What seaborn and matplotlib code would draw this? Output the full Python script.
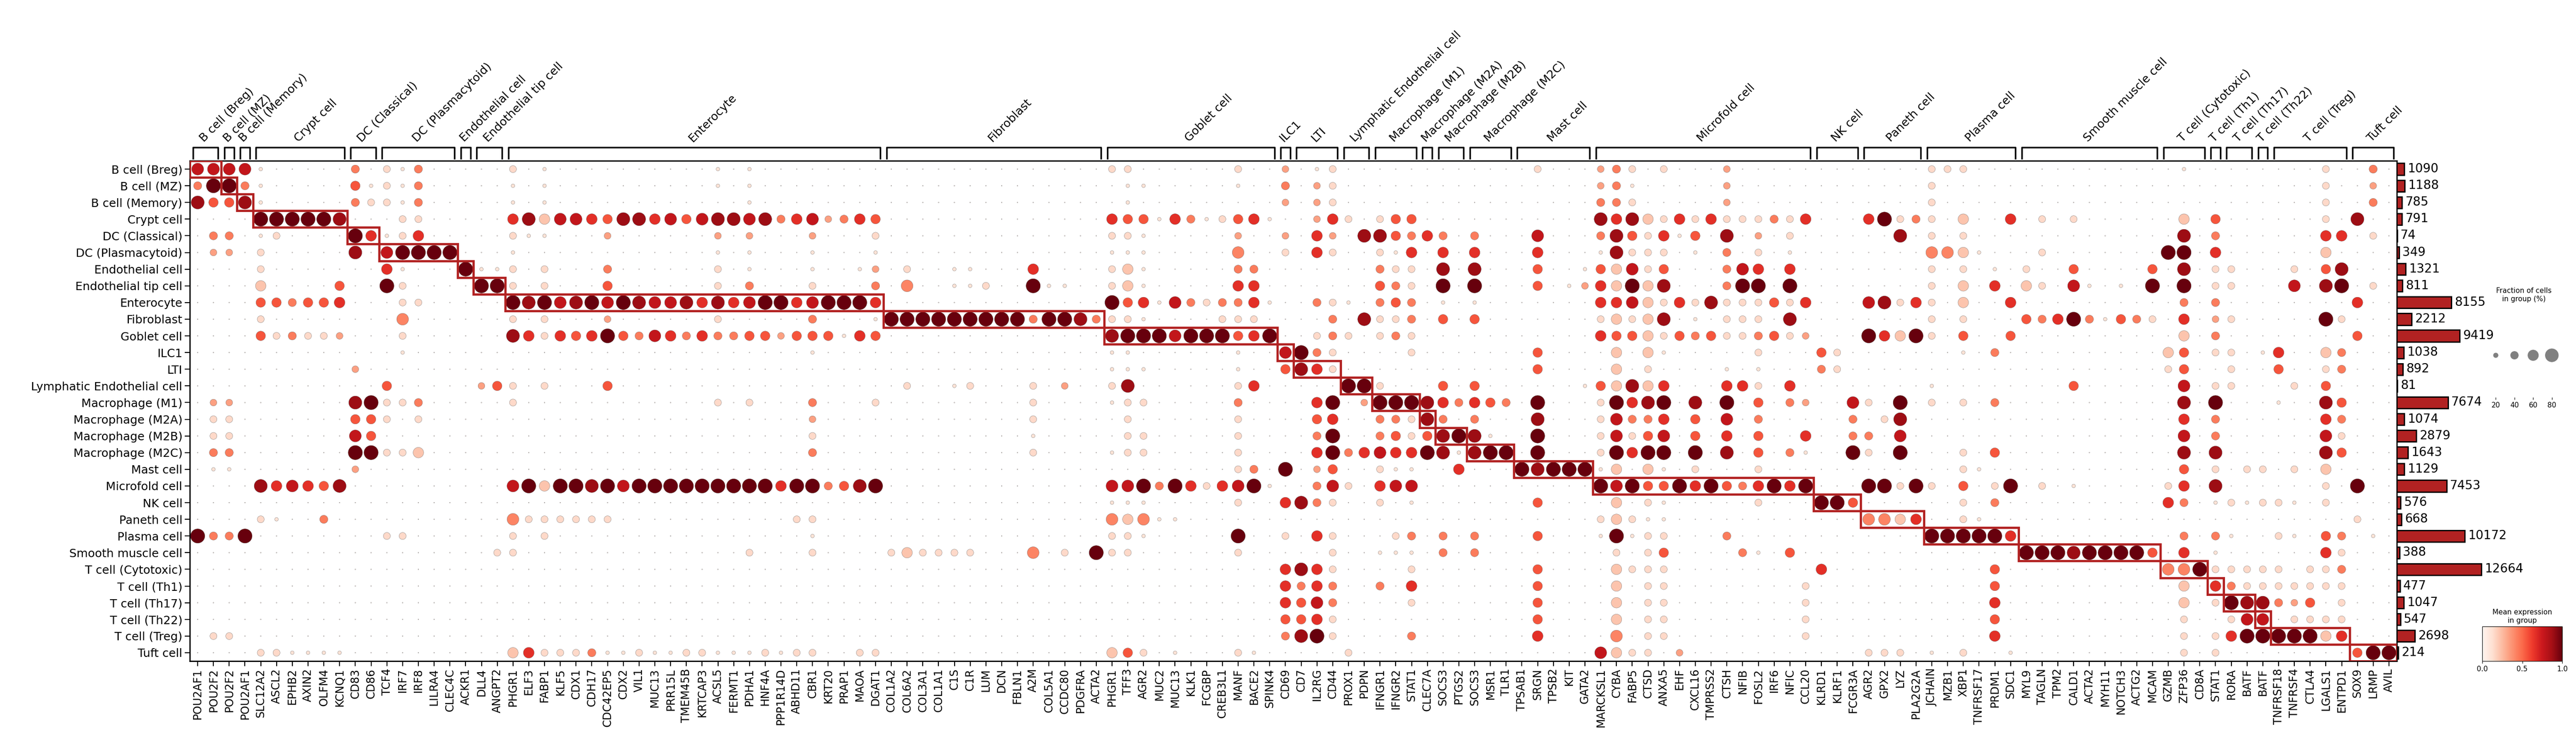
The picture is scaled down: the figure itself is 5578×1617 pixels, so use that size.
import numpy as np
import pandas as pd
import matplotlib
matplotlib.use("Agg")
import matplotlib.pyplot as plt
from matplotlib.patches import Rectangle
import seaborn as sns

# ---- данные ----
cell_types = ['B cell (Breg)', 'B cell (MZ)', 'B cell (Memory)', 'Crypt cell', 'DC (Classical)',
              'DC (Plasmacytoid)', 'Endothelial cell', 'Endothelial tip cell', 'Enterocyte', 'Fibroblast',
              'Goblet cell', 'ILC1', 'LTI', 'Lymphatic Endothelial cell', 'Macrophage (M1)',
              'Macrophage (M2A)', 'Macrophage (M2B)', 'Macrophage (M2C)', 'Mast cell', 'Microfold cell',
              'NK cell', 'Paneth cell', 'Plasma cell', 'Smooth muscle cell', 'T cell (Cytotoxic)',
              'T cell (Th1)', 'T cell (Th17)', 'T cell (Th22)', 'T cell (Treg)', 'Tuft cell']
cell_counts = [1090, 1188, 785, 791, 74, 349, 1321, 811, 8155, 2212, 9419, 1038, 892, 81, 7674,
               1074, 2879, 1643, 1129, 7453, 576, 668, 10172, 388, 12664, 477, 1047, 547, 2698, 214]

marker_genes = {
    'B cell (Breg)': ['POU2AF1', 'POU2F2'],
    'B cell (MZ)': ['POU2F2'],
    'B cell (Memory)': ['POU2AF1'],
    'Crypt cell': ['SLC12A2', 'ASCL2', 'EPHB2', 'AXIN2', 'OLFM4', 'KCNQ1'],
    'DC (Classical)': ['CD83', 'CD86'],
    'DC (Plasmacytoid)': ['TCF4', 'IRF7', 'IRF8', 'LILRA4', 'CLEC4C'],
    'Endothelial cell': ['ACKR1'],
    'Endothelial tip cell': ['DLL4', 'ANGPT2'],
    'Enterocyte': ['PHGR1', 'ELF3', 'FABP1', 'KLF5', 'CDX1', 'CDH17', 'CDC42EP5', 'CDX2', 'VIL1',
                   'MUC13', 'PRR15L', 'TMEM45B', 'KRTCAP3', 'ACSL5', 'FERMT1', 'PDHA1', 'HNF4A',
                   'PPP1R14D', 'ABHD11', 'CBR1', 'KRT20', 'PRAP1', 'MAOA', 'DGAT1'],
    'Fibroblast': ['COL1A2', 'COL6A2', 'COL3A1', 'COL1A1', 'C1S', 'C1R', 'LUM', 'DCN', 'FBLN1',
                   'A2M', 'COL5A1', 'CCDC80', 'PDGFRA', 'ACTA2'],
    'Goblet cell': ['PHGR1', 'TFF3', 'AGR2', 'MUC2', 'MUC13', 'KLK1', 'FCGBP', 'CREB3L1', 'MANF',
                    'BACE2', 'SPINK4'],
    'ILC1': ['CD69'],
    'LTI': ['CD7', 'IL2RG', 'CD44'],
    'Lymphatic Endothelial cell': ['PROX1', 'PDPN'],
    'Macrophage (M1)': ['IFNGR1', 'IFNGR2', 'STAT1'],
    'Macrophage (M2A)': ['CLEC7A'],
    'Macrophage (M2B)': ['SOCS3', 'PTGS2'],
    'Macrophage (M2C)': ['SOCS3', 'MSR1', 'TLR1'],
    'Mast cell': ['TPSAB1', 'SRGN', 'TPSB2', 'KIT', 'GATA2'],
    'Microfold cell': ['MARCKSL1', 'CYBA', 'FABP5', 'CTSD', 'ANXA5', 'EHF', 'CXCL16', 'TMPRSS2',
                       'CTSH', 'NFIB', 'FOSL2', 'IRF6', 'NFIC', 'CCL20'],
    'NK cell': ['KLRD1', 'KLRF1', 'FCGR3A'],
    'Paneth cell': ['AGR2', 'GPX2', 'LYZ', 'PLA2G2A'],
    'Plasma cell': ['JCHAIN', 'MZB1', 'XBP1', 'TNFRSF17', 'PRDM1', 'SDC1'],
    'Smooth muscle cell': ['MYL9', 'TAGLN', 'TPM2', 'CALD1', 'ACTA2', 'MYH11', 'NOTCH3', 'ACTG2', 'MCAM'],
    'T cell (Cytotoxic)': ['GZMB', 'ZFP36', 'CD8A'],
    'T cell (Th1)': ['STAT1'],
    'T cell (Th17)': ['RORA', 'BATF'],
    'T cell (Th22)': ['BATF'],
    'T cell (Treg)': ['TNFRSF18', 'TNFRSF4', 'CTLA4', 'LGALS1', 'ENTPD1'],
    'Tuft cell': ['SOX9', 'LRMP', 'AVIL'],
}

# Уровни точек (столбец:код), прочие ячейки - крошечные точки.
# 1-9: размер и цвет растут вместе; a/b/c: бледные крупные точки
dot_codes = [
    "0:7 1:7 2:7 3:7 4:1 10:4 12:a 13:1 14:4 20:a 22:1 33:1 35:1 58:a 59:a 66:a 69:3 71:1 72:a 85:a 89:3 90:4 91:a 93:a 97:3 110:a 111:a 112:a 126:1 135:a 138:4",
    "0:4 1:9 2:9 3:4 4:1 10:5 11:1 12:a 13:1 14:4 20:1 22:1 33:1 35:1 59:1 60:1 66:1 69:4 71:3 72:a 89:3 90:4 91:1 97:3 110:a 135:a 138:3",
    "0:8 1:5 2:5 3:8 4:1 10:4 11:a 12:a 13:1 14:4 20:1 22:1 35:1 59:1 69:3 71:3 72:a 89:4 90:4 91:a 97:3 110:a 135:a 138:4",
    "4:9 5:9 6:9 7:9 8:9 9:8 13:a 14:a 20:6 21:8 22:b 23:7 24:7 25:6 26:5 27:8 28:8 29:6 30:7 31:5 32:7 33:8 34:8 35:7 36:8 37:4 38:6 39:7 40:3 41:4 42:6 43:5 58:6 59:5 60:5 61:1 62:6 63:4 64:1 65:a 66:5 67:6 68:1 71:3 72:6 73:a 75:a 76:5 77:5 89:8 90:6 91:8 92:b 93:a 94:6 95:a 96:6 97:a 98:a 99:a 100:4 101:a 102:6 106:6 107:9 108:a 109:4 110:a 112:b 115:6 117:a 119:a 126:b 128:5 135:a 137:8",
    "1:4 2:4 4:1 5:a 10:9 11:6 12:1 13:a 14:6 20:a 21:1 22:1 26:3 33:3 35:3 39:3 43:a 58:a 59:a 60:1 66:3 69:3 71:6 72:3 74:8 75:8 76:5 77:4 78:6 79:4 81:4 85:7 89:4 90:8 91:5 92:a 93:6 94:1 95:5 97:8 99:3 101:a 108:8 110:a 112:a 126:8 128:4 135:6 136:6 138:a",
    "1:3 2:3 4:a 10:8 12:7 13:9 14:9 15:9 16:9 20:1 33:1 35:1 39:1 43:1 58:1 59:1 60:1 66:c 69:a 71:6 72:a 75:a 76:1 77:6 79:6 81:6 85:6 89:1 90:8 91:a 92:a 93:a 95:1 97:4 99:a 101:1 110:c 111:c 112:b 113:1 117:a 125:9 126:9 128:6 135:b",
    "4:a 12:6 13:1 17:9 18:1 19:1 20:a 22:a 26:4 33:a 35:1 39:1 42:1 43:3 45:a 48:1 49:1 53:6 58:a 59:b 60:1 66:4 67:4 75:4 76:a 77:a 79:8 81:8 85:5 88:1 89:5 90:b 91:7 92:a 93:5 97:4 98:7 99:6 101:6 110:a 112:a 114:1 116:a 119:5 124:5 126:8 128:a 129:a 133:a 135:5 136:8",
    "4:b 9:5 12:9 13:a 18:9 19:9 20:a 22:a 26:5 33:a 35:4 39:a 43:4 45:c 48:1 49:1 50:a 53:9 54:1 55:1 58:a 59:b 60:1 66:6 67:6 75:5 76:4 77:a 79:9 81:9 85:5 87:1 88:3 89:6 90:b 91:9 92:b 93:8 97:4 98:9 99:9 101:9 110:a 112:b 114:6 116:b 117:a 119:7 120:1 122:1 124:9 126:9 128:a 129:a 133:7 135:8 136:9 138:a",
    "4:5 5:5 6:4 7:5 8:5 9:6 13:a 14:a 20:9 21:8 22:9 23:7 24:8 25:9 26:7 27:9 28:8 29:7 30:7 31:8 32:6 33:8 34:6 35:7 36:9 37:9 38:6 39:7 40:9 41:9 42:9 43:6 58:9 59:5 60:6 61:1 62:7 63:4 64:a 65:4 66:4 67:6 68:1 71:4 72:a 73:1 75:4 76:5 77:4 79:1 81:1 89:6 90:6 91:7 92:b 93:a 94:6 95:a 96:8 97:a 98:a 99:a 100:5 101:a 102:6 106:7 107:8 108:a 109:6 110:a 112:b 115:6 126:4 128:4 137:6",
    "4:a 13:c 20:a 22:a 26:3 33:a 39:4 43:1 44:9 45:9 46:9 47:9 48:9 49:9 50:9 51:9 52:9 53:4 54:9 55:9 56:8 57:4 58:a 59:a 60:1 65:a 66:a 67:a 72:4 74:8 75:a 76:a 77:4 79:5 81:5 89:a 90:b 91:a 92:b 93:8 95:1 97:a 98:a 99:a 101:8 110:a 112:a 116:5 117:4 118:6 119:9 120:4 121:1 122:5 123:4 124:a 126:6 128:3 129:a 135:9 136:a",
    "4:5 5:a 6:4 7:a 8:a 9:3 13:a 20:8 21:6 22:a 23:6 24:5 25:6 26:9 27:5 28:4 29:7 30:6 31:4 32:6 33:4 34:4 35:5 36:5 37:3 38:5 39:5 40:5 41:1 42:6 43:5 58:8 59:9 60:9 61:9 62:7 63:9 64:9 65:9 66:5 67:6 68:9 71:a 72:4 73:a 75:a 76:4 77:a 89:6 90:5 91:5 92:b 93:a 94:5 95:4 96:5 97:a 98:a 99:4 100:5 101:a 102:3 106:9 107:6 108:b 109:9 110:a 112:5 115:5 126:b 128:4 137:5",
    "13:1 39:1 58:1 59:1 66:1 69:7 70:9 71:4 72:a 77:a 85:5 90:b 92:b 93:1 99:a 103:5 104:a 112:1 114:4 125:b 126:5 128:a 129:a 131:1 132:6 135:b 136:4",
    "10:3 58:1 59:1 60:1 66:1 69:5 70:8 71:6 72:a 85:5 90:b 92:a 97:1 99:1 103:4 104:a 125:a 126:5 129:a 132:5 135:a 136:4",
    "12:5 18:3 19:5 20:a 22:a 26:5 45:a 48:1 49:a 53:a 55:3 58:a 59:8 66:a 67:6 73:9 74:9 75:a 79:5 81:5 88:1 89:5 90:b 91:8 92:b 93:6 97:6 98:6 99:a 101:6 110:1 119:5 126:7 128:a 129:a 133:a 135:5",
    "1:3 2:3 10:8 11:9 12:a 13:a 14:4 20:a 33:a 35:a 39:4 43:a 53:a 58:1 59:a 60:a 66:4 71:6 72:9 74:3 75:9 76:9 77:9 78:8 79:6 80:4 81:6 82:5 83:4 85:9 89:a 90:9 91:6 92:8 93:9 95:8 97:9 99:5 101:4 102:3 105:7 106:a 108:9 110:a 112:a 114:4 126:8 128:9 132:1 135:8 136:5",
    "1:a 2:a 10:5 11:5 12:a 14:a 39:3 53:a 59:a 66:a 71:5 72:6 75:4 76:4 77:a 78:8 79:4 81:4 85:8 89:a 90:7 91:4 92:4 93:6 95:5 97:7 99:4 105:4 107:a 108:8 126:6 128:4 135:6 136:4",
    "1:a 2:a 10:7 11:5 39:a 53:1 59:a 60:a 66:a 71:4 72:9 75:4 76:5 77:a 78:5 79:8 80:9 81:8 82:1 85:9 89:a 90:7 91:a 92:5 93:7 95:5 97:6 99:5 102:6 105:4 106:4 108:7 126:7 128:4 135:7 136:a",
    "1:4 2:4 10:9 11:9 12:a 13:a 14:b 39:4 53:a 58:1 59:a 60:a 66:a 71:6 72:9 73:4 74:6 75:7 76:6 77:6 78:9 79:8 80:1 81:8 82:9 83:9 85:9 89:a 90:9 91:6 92:9 93:9 95:9 97:8 99:5 101:4 102:1 105:9 106:a 108:9 112:a 114:5 126:8 128:8 135:8 136:5",
    "1:1 2:1 10:3 66:a 67:4 69:9 71:3 72:5 75:a 76:1 77:1 80:6 84:9 85:8 86:9 87:9 88:9 89:1 90:b 92:b 93:1 95:a 99:a 112:a 113:1 126:5 128:a 130:a 131:a 133:a 135:b",
    "4:8 5:6 6:7 7:6 8:5 9:8 20:7 21:9 22:b 23:9 24:9 25:8 26:9 27:7 28:9 29:9 30:9 31:9 32:9 33:9 34:9 35:9 36:9 37:6 38:9 39:9 40:4 41:5 42:8 43:9 58:7 59:7 60:9 61:4 62:9 63:6 64:a 65:6 66:7 67:9 68:1 71:4 72:7 73:a 75:6 76:7 77:7 89:9 90:7 91:9 92:5 93:5 94:9 95:6 96:9 97:5 98:4 99:6 100:9 101:6 102:9 106:9 107:9 108:a 109:9 110:a 112:5 114:a 115:9 117:a 119:1 125:a 126:6 128:8 135:a 137:9",
    "58:1 59:1 60:1 66:a 69:6 70:8 71:4 72:a 75:a 77:1 85:5 90:b 92:a 93:1 99:a 103:9 104:9 105:5 112:a 114:4 125:6 126:4 128:1 129:a 130:1 131:a 132:a 133:1 135:a",
    "4:a 5:1 8:4 20:c 21:a 22:a 23:a 24:a 25:a 26:a 38:a 39:a 58:c 59:b 60:c 61:1 62:1 89:a 90:b 91:a 92:1 93:1 106:c 107:c 108:b 109:6 112:a 113:1 137:a",
    "0:9 1:4 2:4 3:9 12:a 13:a 20:a 22:a 39:1 58:a 59:a 60:1 66:9 69:a 71:6 72:a 76:a 77:4 79:4 81:4 85:5 89:1 90:9 91:1 92:a 93:a 97:4 110:9 111:9 112:9 113:9 114:9 115:6 126:4 128:4 129:1 132:a 133:1 135:5 136:4 138:1",
    "19:a 20:a 35:a 39:a 44:a 45:b 46:a 47:a 48:a 49:a 53:c 55:a 57:9 58:a 59:a 66:a 72:a 75:1 76:1 77:1 79:4 81:4 90:a 92:a 93:5 98:4 99:1 101:5 116:9 117:9 118:9 119:8 120:9 121:9 122:9 123:9 124:5 126:6 128:1 135:6 136:a",
    "69:6 70:8 71:6 72:a 77:a 85:5 90:b 91:a 92:a 93:a 103:6 114:5 125:c 126:c 127:9 128:a 129:a 130:a 131:a 132:a 134:a 135:a 136:4",
    "69:6 70:4 71:6 72:4 75:4 77:6 85:5 90:b 92:a 93:a 102:a 114:5 126:b 128:6 129:4 130:a 131:a 132:a 133:a 134:a 135:a 136:a",
    "69:6 70:5 71:7 72:4 77:a 85:5 90:b 92:a 93:a 102:a 114:6 126:b 128:a 129:9 130:8 131:8 132:4 133:3 134:5 136:a",
    "69:5 70:5 71:6 72:a 85:5 90:b 92:a 93:a 102:a 114:5 126:a 129:a 130:7 131:7 133:a 134:a 135:a 136:a",
    "1:a 2:a 69:4 70:8 71:9 72:a 77:4 85:6 90:c 92:a 93:a 102:a 114:6 126:a 128:a 129:6 130:9 131:9 132:9 133:9 134:9 135:b 136:6",
    "4:a 5:a 6:1 7:1 8:1 9:1 20:b 21:6 22:a 23:a 24:a 25:4 26:1 27:1 28:a 29:1 30:1 31:a 32:a 33:1 34:1 35:1 36:a 37:1 38:a 39:a 42:a 43:a 58:b 59:5 60:a 62:1 66:a 67:1 73:a 89:7 90:b 91:a 92:a 94:3 106:a 107:a 108:a 110:1 112:a 115:1 126:a 128:a 137:5 138:9 139:9",
]

# коды -> (доля клеток, средняя экспрессия)
code_map = {'0': (0.02, 0.03), 'a': (0.35, 0.15), 'b': (0.6, 0.22), 'c': (0.7, 0.42)}
for d in range(1, 10):
    code_map[str(d)] = (0.05 + 0.095 * d, d / 9)

group_names = list(marker_genes.keys())
genes = [g for k in group_names for g in marker_genes[k]]
n_genes = len(genes)

records = []
for r, ct in enumerate(cell_types):
    codes = ['0'] * n_genes
    for tok in dot_codes[r].split():
        c, v = tok.split(':')
        codes[int(c)] = v
    for c, v in enumerate(codes):
        frac, expr = code_map[v]
        records.append({'row': r, 'col': c, 'frac': frac, 'expr': expr})
df = pd.DataFrame(records)
df['dot'] = df['frac'] ** 1.5

# ---- фигура ----
plt.rcParams['font.family'] = ['DejaVu Sans']
W, H = 5578, 1617
fig = plt.figure(figsize=(W / 100, H / 100), dpi=100)

def box(x0, y0, x1, y1):  # пиксели от верхнего левого угла
    return [x0 / W, 1 - y1 / H, (x1 - x0) / W, (y1 - y0) / H]

ax = fig.add_axes(box(411, 348, 5190, 1431))
big = 580
sns.scatterplot(data=df, x='col', y='row', hue='expr', size='dot', palette='Reds',
                hue_norm=(0, 1), sizes=(0, big), size_norm=(0, 1), edgecolor='#555555',
                linewidth=0.3, legend=False, ax=ax)
ax.set_xlim(-0.5, n_genes - 0.5)
ax.set_ylim(len(cell_types) - 0.5, -0.5)
ax.set_xticks(range(n_genes))
ax.set_xticklabels(genes, rotation=90, fontsize=17)
ax.set_yticks(range(len(cell_types)))
ax.set_yticklabels(cell_types, fontsize=18)
ax.set_xlabel('')
ax.set_ylabel('')
ax.tick_params(length=8, width=1.5)
for s in ax.spines.values():
    s.set_linewidth(2)

# красные рамки и скобки групп
ax_br = fig.add_axes(box(411, 300, 5190, 348))
ax_br.set_xlim(-0.5, n_genes - 0.5)
ax_br.set_ylim(0, 1)
ax_br.axis('off')
start = 0
for r, gname in enumerate(group_names):
    n = len(marker_genes[gname])
    ax.add_patch(Rectangle((start - 0.5, r - 0.5), n, 1, fill=False, edgecolor='#b22222', lw=3.5, zorder=5))
    ax_br.plot([start - 0.3, start - 0.3, start + n - 0.7, start + n - 0.7], [0.1, 0.6, 0.6, 0.1],
               color='black', lw=2.5, clip_on=False)
    ax_br.text(start + (n - 1) / 2, 0.75, gname, rotation=45, ha='left', va='bottom',
               rotation_mode='anchor', fontsize=18)
    start += n

# гистограмма числа клеток
ax_bar = fig.add_axes(box(5190, 348, 5380, 1431))
ax_bar.barh(range(len(cell_types)), cell_counts, height=0.7, color='#b22222', edgecolor='black', lw=2)
ax_bar.set_ylim(len(cell_types) - 0.5, -0.5)
ax_bar.set_xlim(0, 13148)
ax_bar.axis('off')
for i, v in enumerate(cell_counts):
    ax_bar.text(v + 500, i, str(v), va='center', ha='left', fontsize=19, clip_on=False, zorder=10)

# легенда размеров
ax_sz = fig.add_axes(box(5380, 660, 5550, 860))
ax_sz.patch.set_visible(False)
leg_fracs = [0.2, 0.4, 0.6, 0.8]
leg = pd.DataFrame({'x': range(4), 'y': 0, 'dot': [f ** 1.5 for f in leg_fracs]})
sns.scatterplot(data=leg, x='x', y='y', size='dot', sizes=(0, big), size_norm=(0, 1),
                color='gray', edgecolor='gray', legend=False, ax=ax_sz)
ax_sz.set_xlim(-0.6, 3.6)
ax_sz.set_ylim(-1, 1.2)
ax_sz.set_xticks(range(4))
ax_sz.set_xticklabels(['20', '40', '60', '80'], fontsize=11)
ax_sz.set_yticks([])
ax_sz.set_xlabel('')
ax_sz.set_ylabel('')
ax_sz.set_title('Fraction of cells\nin group (%)', fontsize=11)
for s in ax_sz.spines.values():
    s.set_visible(False)

# цветовая шкала
ax_cb = fig.add_axes(box(5375, 1356, 5548, 1431))
sm = plt.cm.ScalarMappable(cmap='Reds', norm=plt.Normalize(0, 1))
cb = fig.colorbar(sm, cax=ax_cb, orientation='horizontal')
cb.set_ticks([0, 0.5, 1.0])
cb.ax.tick_params(labelsize=11)
ax_cb.set_title('Mean expression\nin group', fontsize=11)

fig.savefig('out.png', dpi=100)
